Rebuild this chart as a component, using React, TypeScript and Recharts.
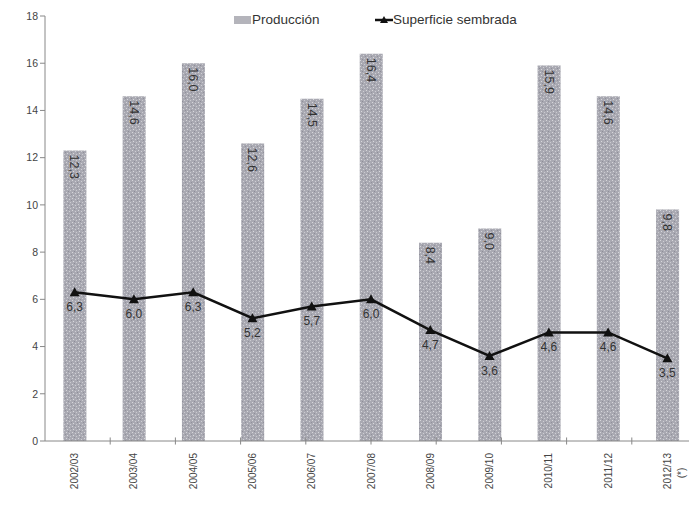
import React from "react";
import {
  Bar,
  ComposedChart,
  LabelList,
  Line,
  ReferenceLine,
  XAxis,
  YAxis,
} from "recharts";

const campaigns = [
  "2002/03",
  "2003/04",
  "2004/05",
  "2005/06",
  "2006/07",
  "2007/08",
  "2008/09",
  "2009/10",
  "2010/11",
  "2011/12",
  "2012/13",
];
const produccion = [12.3, 14.6, 16.0, 12.6, 14.5, 16.4, 8.4, 9.0, 15.9, 14.6, 9.8];
const superficie = [6.3, 6.0, 6.3, 5.2, 5.7, 6.0, 4.7, 3.6, 4.6, 4.6, 3.5];
const yTicks = [0, 2, 4, 6, 8, 10, 12, 14, 16, 18];

const data = campaigns.map((c, i) => ({
  campaign: c,
  produccion: produccion[i],
  superficie: superficie[i],
}));

const FONT = "'Liberation Sans', Arial, sans-serif";
const fmt = (v: number) => v.toFixed(1).replace(".", ",");

function XTick({ x, y, payload, index }: any) {
  const last = index === campaigns.length - 1;
  return (
    <g transform={`translate(${x},${y})`}>
      <text
        transform="rotate(-90)"
        x={-4}
        y={0}
        dy="0.35em"
        textAnchor="end"
        fontSize={10}
        fill="#444"
        fontFamily={FONT}
      >
        {payload.value}
      </text>
      {last && (
        <text
          transform="rotate(-90)"
          x={-24}
          y={14}
          dy="0.35em"
          textAnchor="middle"
          fontSize={10}
          fill="#444"
          fontFamily={FONT}
        >
          (*)
        </text>
      )}
    </g>
  );
}

function BarValue({ x, y, width, value }: any) {
  const cx = x + width / 2;
  const ty = y + 4;
  return (
    <text
      transform={`translate(${cx},${ty}) rotate(90)`}
      x={0}
      y={0}
      dy="0.35em"
      textAnchor="start"
      fontSize={12.5}
      fill="#333"
      fontFamily={FONT}
    >
      {fmt(value)}
    </text>
  );
}

function LineValue({ x, y, value }: any) {
  return (
    <text
      x={x}
      y={y + 19}
      textAnchor="middle"
      fontSize={12}
      fill="#333"
      fontFamily={FONT}
    >
      {fmt(value)}
    </text>
  );
}

function Triangle({ cx, cy }: any) {
  if (cx == null || cy == null) return null;
  return (
    <path
      d={`M${cx},${cy - 5} L${cx + 5},${cy + 4} L${cx - 5},${cy + 4} Z`}
      fill="#111"
    />
  );
}

export default function App() {
  return (
    <div style={{ position: "relative", width: 697, height: 510, margin: -8, background: "#fff" }}>
      <ComposedChart
        width={697}
        height={510}
        data={data}
        margin={{ top: 16, right: 0, bottom: 0, left: 5 }}
        barCategoryGap="31%"
      >
        <defs>
          <pattern id="speckle" width="6" height="6" patternUnits="userSpaceOnUse">
            <rect width="6" height="6" fill="#a9a9b2" />
            <rect x="0" y="0" width="1" height="1" fill="#d6d6da" />
            <rect x="3" y="1" width="1" height="1" fill="#cfcfd4" />
            <rect x="1" y="3" width="1" height="1" fill="#d8d8dc" />
            <rect x="4" y="4" width="1" height="1" fill="#cbcbd0" />
            <rect x="2" y="5" width="1" height="1" fill="#8e8e98" />
            <rect x="5" y="2" width="1" height="1" fill="#90909a" />
          </pattern>
        </defs>
        <XAxis
          dataKey="campaign"
          tick={<XTick />}
          tickLine={false}
          axisLine={{ stroke: "#888" }}
          height={69}
          interval={0}
        />
        <XAxis xAxisId="n" type="number" domain={[0, 11]} hide />
        <YAxis
          domain={[0, 18]}
          ticks={yTicks}
          width={40}
          tick={{ fontSize: 10.5, fill: "#444", fontFamily: FONT }}
          tickLine={{ stroke: "#888" }}
          tickSize={5}
          axisLine={{ stroke: "#888" }}
        />
        {campaigns.map((_, i) =>
          i === 0 ? null : (
            <ReferenceLine
              key={i}
              xAxisId="n"
              segment={[
                { x: i, y: 0.15 },
                { x: i, y: -0.15 },
              ]}
              stroke="#888"
              ifOverflow="visible"
            />
          )
        )}
        <Bar dataKey="produccion" fill="url(#speckle)" isAnimationActive={false}>
          <LabelList dataKey="produccion" content={<BarValue />} />
        </Bar>
        <Line
          dataKey="superficie"
          stroke="#111"
          strokeWidth={2.5}
          dot={<Triangle />}
          activeDot={false}
          isAnimationActive={false}
        >
          <LabelList dataKey="superficie" content={<LineValue />} />
        </Line>
      </ComposedChart>
      <div
        style={{
          position: "absolute",
          top: 12,
          left: 0,
          width: 697,
          fontFamily: FONT,
          fontSize: 13.5,
          color: "#333",
        }}
      >
        <div style={{ position: "absolute", left: 234, display: "flex", alignItems: "center" }}>
          <svg width={17} height={8}>
            <rect width={17} height={8} fill="#b4b4bb" />
          </svg>
          <span style={{ marginLeft: 1 }}>Producción</span>
        </div>
        <div style={{ position: "absolute", left: 375, display: "flex", alignItems: "center" }}>
          <svg width={18} height={10}>
            <line x1={0} y1={5} x2={18} y2={5} stroke="#111" strokeWidth={2.5} />
            <path d="M9,1 L13,8 L5,8 Z" fill="#111" />
          </svg>
          <span>Superficie sembrada</span>
        </div>
      </div>
    </div>
  );
}
